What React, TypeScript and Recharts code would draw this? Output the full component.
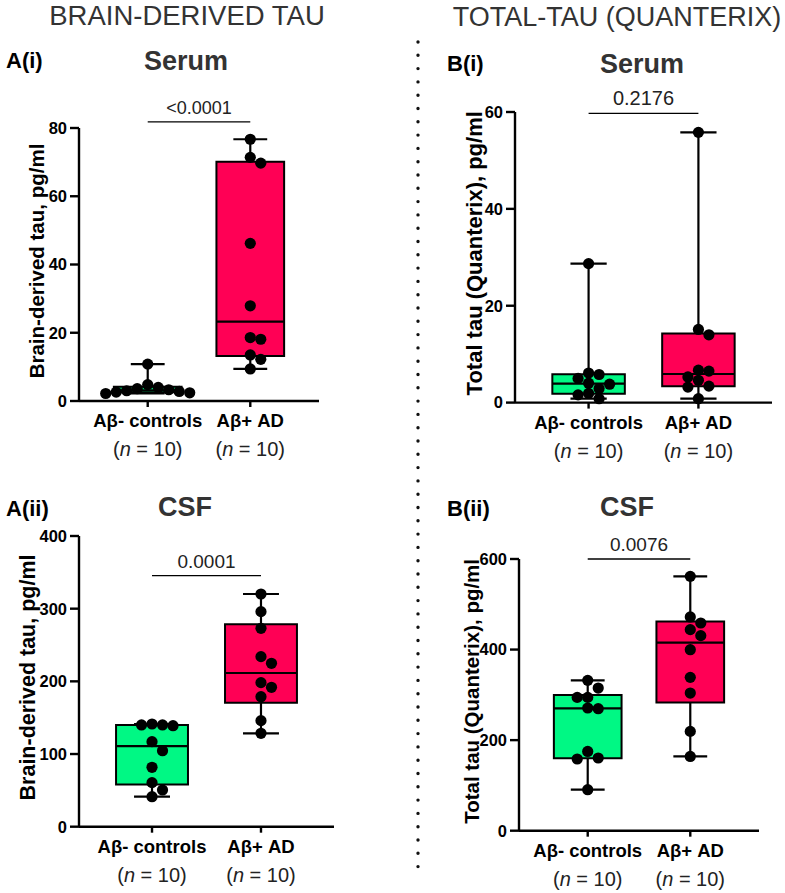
import { ComposedChart, Scatter, XAxis, YAxis, ReferenceArea, ReferenceLine } from 'recharts';

const categories = ['Aβ- controls', 'Aβ+ AD'];
const groupSizes = [10, 10];

// brain-derived tau, pg/ml
const bdSerumControls = [10.8, 4.8, 4.0, 3.6, 3.3, 3.0, 2.8, 2.6, 2.4, 2.2];
const bdSerumAD = [76.7, 71.4, 69.7, 46.2, 27.9, 18.6, 18.1, 13.5, 12.2, 9.4];
const bdCsfControls = [141.3, 140, 140, 139, 117, 104.6, 81.7, 60.6, 50.5, 41.3];
const bdCsfAD = [320.2, 295.9, 273, 234, 224.8, 198.2, 191.8, 178.9, 145.9, 128.5];

// total tau (Quanterix), pg/ml
const ttSerumControls = [28.7, 6.1, 5.8, 5.0, 4.0, 3.8, 2.9, 1.9, 1.6, 0.8];
const ttSerumAD = [55.8, 15.1, 14.0, 6.7, 6.5, 5.3, 4.6, 3.4, 3.2, 0.8];
const ttCsfControls = [332, 315, 294.4, 294.4, 271, 269.4, 175, 160.5, 158.3, 90.5];
const ttCsfAD = [561.7, 472, 458.7, 444, 430.7, 399.7, 338.6, 304, 219.3, 164];

const pValues = ['<0.0001', '0.0001', '0.2176', '0.0076'];

const ticksA1 = [0, 20, 40, 60, 80];
const ticksA2 = [0, 100, 200, 300, 400];
const ticksB1 = [0, 20, 40, 60];
const ticksB2 = [0, 200, 400, 600];

const FONT = "Arial, 'Liberation Sans', Helvetica, sans-serif";
const GREEN = '#00F884';
const PINK = '#FF0055';
const X_DOMAIN: [number, number] = [-0.67, 1.67];
const BOX_HALF = 0.33;
const CAP_HALF = 0.165;

// Prism-style quartiles, (n+1)p position on sorted values
function quantile(s: number[], p: number) {
  const pos = (s.length + 1) * p;
  const lo = Math.floor(pos);
  if (lo < 1) return s[0];
  if (lo >= s.length) return s[s.length - 1];
  return s[lo - 1] + (pos - lo) * (s[lo] - s[lo - 1]);
}

function boxStats(vals: number[]) {
  const s = [...vals].sort((a, b) => a - b);
  return { min: s[0], q1: quantile(s, 0.25), med: quantile(s, 0.5), q3: quantile(s, 0.75), max: s[s.length - 1] };
}

// simple beeswarm: spread dots sideways until they stop overlapping
function swarm(vals: number[], pxPerY: number, pxPerX: number) {
  const STEP = 10.5, MIN_D = 10;
  const order = vals.map((_, i) => i).sort((a, b) => vals[b] - vals[a]);
  const placed: { dx: number; py: number }[] = [];
  const out = vals.map(() => 0);
  for (const i of order) {
    const py = vals[i] * pxPerY;
    for (let k = 0; k < 40; k++) {
      const dx = k === 0 ? 0 : (k % 2 ? 1 : -1) * Math.ceil(k / 2) * STEP;
      if (placed.every((p) => Math.hypot(p.dx - dx, p.py - py) >= MIN_D)) {
        placed.push({ dx, py });
        out[i] = dx / pxPerX;
        break;
      }
    }
  }
  return out;
}

function CategoryTick({ x, y, payload }: any) {
  const i = Math.round(payload.value);
  return (
    <g>
      <text x={x} y={y + 20} textAnchor="middle" fontSize={18.5} fontWeight="bold" fill="#000">{categories[i]}</text>
      <text x={x} y={y + 49} textAnchor="middle" fontSize={20} fill="#222">
        (<tspan fontStyle="italic">n</tspan> = {groupSizes[i]})
      </text>
    </g>
  );
}

interface PanelProps {
  plot: { left: number; right: number; top: number; bottom: number };
  yMax: number;
  yTicks: number[];
  groups: number[][];
  pValue: string;
  sigY: number;
  sigSize: number;
  yLabel: string;
  labelX: number;
  labelY: number;
  labelSize: number;
}

function BoxPanel({ plot, yMax, yTicks, groups, pValue, sigY, sigSize, yLabel, labelX, labelY, labelSize }: PanelProps) {
  const left = 75, right = 12, top = 34, bottom = 70;
  const plotW = plot.right - plot.left;
  const plotH = plot.bottom - plot.top;
  const W = plotW + left + right;
  const H = plotH + top + bottom;
  const chartX = plot.left - left;
  const chartY = plot.top - top;
  const pxPerX = plotW / (X_DOMAIN[1] - X_DOMAIN[0]);
  const pxPerY = plotH / yMax;
  const stats = groups.map(boxStats);
  const points = groups.flatMap((g, gi) => {
    const offs = swarm(g, pxPerY, pxPerX);
    return g.map((v, i) => ({ x: gi + offs[i], y: v }));
  });
  const axisStyle = { stroke: '#000', strokeWidth: 2.4 };
  const lineProps = { stroke: '#000', strokeWidth: 2.2, ifOverflow: 'visible' as const };

  return (
    <div style={{ position: 'absolute', left: chartX, top: chartY }}>
      <ComposedChart width={W} height={H} margin={{ top, right, bottom: 0, left: 0 }}>
        <XAxis
          type="number" dataKey="x" domain={X_DOMAIN} ticks={[0, 1]} interval={0}
          height={bottom} tickSize={6} tickMargin={0}
          axisLine={axisStyle} tickLine={axisStyle} tick={<CategoryTick />}
          allowDataOverflow
        />
        <YAxis
          type="number" dataKey="y" domain={[0, yMax]} ticks={yTicks} interval={0}
          width={left} tickSize={9} tickMargin={3}
          axisLine={axisStyle} tickLine={axisStyle}
          tick={{ fill: '#000', fontSize: 16.5, fontWeight: 'bold' }}
          label={() => {
            const lx = labelX - chartX, ly = labelY - chartY;
            return (
              <text x={lx} y={ly} transform={`rotate(-90 ${lx} ${ly})`} textAnchor="middle"
                dominantBaseline="central" fontSize={labelSize} fontWeight="bold" fill="#000">
                {yLabel}
              </text>
            );
          }}
        />

        {stats.map((s, i) => (
          <ReferenceLine key={'wu' + i} segment={[{ x: i, y: s.q3 }, { x: i, y: s.max }]} {...lineProps} />
        ))}
        {stats.map((s, i) => (
          <ReferenceLine key={'wl' + i} segment={[{ x: i, y: s.min }, { x: i, y: s.q1 }]} {...lineProps} />
        ))}
        {stats.map((s, i) => (
          <ReferenceLine key={'cu' + i} segment={[{ x: i - CAP_HALF, y: s.max }, { x: i + CAP_HALF, y: s.max }]} {...lineProps} />
        ))}
        {stats.map((s, i) => (
          <ReferenceLine key={'cl' + i} segment={[{ x: i - CAP_HALF, y: s.min }, { x: i + CAP_HALF, y: s.min }]} {...lineProps} />
        ))}
        {stats.map((s, i) => (
          <ReferenceArea key={'box' + i} x1={i - BOX_HALF} x2={i + BOX_HALF} y1={s.q1} y2={s.q3}
            fill={i === 0 ? GREEN : PINK} fillOpacity={1} stroke="#000" strokeWidth={2} ifOverflow="visible" />
        ))}
        {stats.map((s, i) => (
          <ReferenceLine key={'med' + i} segment={[{ x: i - BOX_HALF, y: s.med }, { x: i + BOX_HALF, y: s.med }]} {...lineProps} />
        ))}

        {/* significance bar */}
        <ReferenceLine
          segment={[{ x: 0, y: sigY }, { x: 1, y: sigY }]}
          stroke="#000" strokeWidth={1.3} ifOverflow="visible"
          label={({ viewBox }: any) => {
            const cx = viewBox ? viewBox.x + viewBox.width / 2 : left + pxPerX * (0.5 - X_DOMAIN[0]);
            const cy = viewBox ? viewBox.y : top + plotH - sigY * pxPerY;
            return (
              <text x={cx} y={cy - 8} textAnchor="middle" fontSize={sigSize} fill="#222">{pValue}</text>
            );
          }}
        />

        <Scatter
          data={points} isAnimationActive={false}
          shape={(p: any) => <circle cx={p.cx} cy={p.cy} r={5.6} fill="#000" />}
        />
      </ComposedChart>
    </div>
  );
}

export default function App() {
  return (
    <div style={{ position: 'absolute', left: 0, top: 0, width: 785, height: 893, background: '#fff', fontFamily: FONT, overflow: 'hidden' }}>
      <BoxPanel
        plot={{ left: 79, right: 319, top: 128, bottom: 401 }} yMax={80} yTicks={ticksA1}
        groups={[bdSerumControls, bdSerumAD]} pValue={pValues[0]} sigY={81.8} sigSize={18}
        yLabel="Brain-derived tau, pg/ml" labelX={36.5} labelY={261} labelSize={20.5}
      />
      <BoxPanel
        plot={{ left: 79, right: 334, top: 536, bottom: 826.7 }} yMax={400} yTicks={ticksA2}
        groups={[bdCsfControls, bdCsfAD]} pValue={pValues[1]} sigY={345.4} sigSize={19}
        yLabel="Brain-derived tau, pg/ml" labelX={28} labelY={677.5} labelSize={21.5}
      />
      <BoxPanel
        plot={{ left: 515, right: 772, top: 111.7, bottom: 402.3 }} yMax={60} yTicks={ticksB1}
        groups={[ttSerumControls, ttSerumAD]} pValue={pValues[2]} sigY={59.7} sigSize={20}
        yLabel="Total tau (Quanterix), pg/ml" labelX={474} labelY={253} labelSize={22}
      />
      <BoxPanel
        plot={{ left: 519, right: 759, top: 559.3, bottom: 831 }} yMax={600} yTicks={ticksB2}
        groups={[ttCsfControls, ttCsfAD]} pValue={pValues[3]} sigY={600} sigSize={19}
        yLabel="Total tau (Quanterix), pg/ml" labelX={471} labelY={691.7} labelSize={20.5}
      />

      <svg width={785} height={893} style={{ position: 'absolute', left: 0, top: 0, pointerEvents: 'none' }}>
        <text x={187} y={25} textAnchor="middle" fontSize={27.5} fill="#333">BRAIN-DERIVED TAU</text>
        <text x={617} y={26} textAnchor="middle" fontSize={27} fill="#333">TOTAL-TAU (QUANTERIX)</text>
        <line x1={418} y1={42} x2={418} y2={872} stroke="#111" strokeWidth={3.4} strokeLinecap="round" strokeDasharray="0 13.3" />

        <text x={6} y={68} fontSize={22} fontWeight="bold" fill="#000">A(i)</text>
        <text x={186} y={70} textAnchor="middle" fontSize={27} fontWeight="bold" fill="#333">Serum</text>
        <text x={447} y={70.5} fontSize={22} fontWeight="bold" fill="#000">B(i)</text>
        <text x={642} y={72.5} textAnchor="middle" fontSize={27} fontWeight="bold" fill="#333">Serum</text>

        <text x={6} y={516} fontSize={22} fontWeight="bold" fill="#000">A(ii)</text>
        <text x={185} y={516} textAnchor="middle" fontSize={27} fontWeight="bold" fill="#333">CSF</text>
        <text x={447} y={516} fontSize={22} fontWeight="bold" fill="#000">B(ii)</text>
        <text x={627} y={516} textAnchor="middle" fontSize={27} fontWeight="bold" fill="#333">CSF</text>
      </svg>
    </div>
  );
}
